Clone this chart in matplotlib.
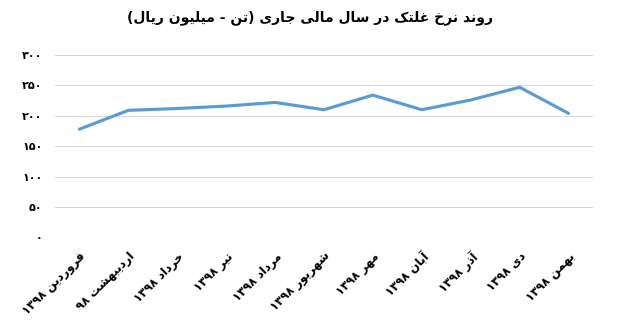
import matplotlib
matplotlib.use('Agg')
import matplotlib.pyplot as plt
from matplotlib.ticker import FuncFormatter, MultipleLocator

# chart data
months = ['فروردین ۱۳۹۸', 'اردیبهشت ۹۸', 'خرداد ۱۳۹۸', 'تیر ۱۳۹۸', 'مرداد ۱۳۹۸',
          'شهریور ۱۳۹۸', 'مهر ۱۳۹۸', 'آبان ۱۳۹۸', 'آذر ۱۳۹۸', 'دی ۱۳۹۸', 'بهمن ۱۳۹۸']
prices = [178, 209, 212, 216, 222, 210, 234, 210, 226, 247, 204]
title = 'روند نرخ غلتک در سال مالی جاری (تن - میلیون ریال)'

# presentation forms: letter -> (isolated codepoint, joins on both sides)
FORMS = {
    'ا': (0xFE8D, False), 'آ': (0xFE81, False), 'د': (0xFEA9, False),
    'ذ': (0xFEAB, False), 'ر': (0xFEAD, False), 'ز': (0xFEAF, False),
    'و': (0xFEED, False),
    'ب': (0xFE8F, True), 'ت': (0xFE95, True), 'ج': (0xFE9D, True),
    'خ': (0xFEA5, True), 'س': (0xFEB1, True), 'ش': (0xFEB5, True),
    'غ': (0xFECD, True), 'ف': (0xFED1, True), 'ل': (0xFEDD, True),
    'م': (0xFEE1, True), 'ن': (0xFEE5, True), 'ه': (0xFEE9, True),
    'ی': (0xFBFC, True), 'ک': (0xFB8E, True),
}
DIGITS = set('0123456789۰۱۲۳۴۵۶۷۸۹')


def shape(text):
    # join letters, then lay out right-to-left (matplotlib does neither)
    out = []
    for i, ch in enumerate(text):
        if ch not in FORMS:
            out.append(ch)
            continue
        base, dual = FORMS[ch]
        prev = i > 0 and text[i - 1] in FORMS and FORMS[text[i - 1]][1]
        nxt = dual and i + 1 < len(text) and text[i + 1] in FORMS
        if prev and nxt:
            form = 3
        elif prev:
            form = 1
        elif nxt:
            form = 2
        else:
            form = 0
        out.append(chr(base + form))
    rev = out[::-1]
    # keep number runs left-to-right, mirror brackets
    res, run = [], []
    for ch in rev:
        if ch in DIGITS:
            run.append(ch)
            continue
        if run:
            res.extend(run[::-1])
            run = []
        res.append({'(': ')', ')': '('}.get(ch, ch))
    res.extend(run[::-1])
    return ''.join(res)


def fa_num(v, pos=None):
    return str(int(round(v))).translate(str.maketrans('0123456789', '۰۱۲۳۴۵۶۷۸۹'))


plt.rcParams['font.family'] = ['DejaVu Sans']

fig = plt.figure(figsize=(6.2, 3.24), dpi=100)
ax = fig.add_axes([0.0887, 0.2676, 0.8677, 0.5625])

x = list(range(len(months)))
ax.plot(x, prices, color='#5B9BD5', lw=2.25, solid_capstyle='round', zorder=3)

ax.set_xlim(-0.5, len(months) - 0.5)
ax.set_ylim(0, 300)
ax.yaxis.set_major_locator(MultipleLocator(50))
ax.yaxis.set_major_formatter(FuncFormatter(fa_num))
ax.grid(axis='y', color='#D9D9D9', lw=0.75)
ax.set_axisbelow(True)
for s in ax.spines.values():
    s.set_visible(False)
ax.tick_params(axis='both', length=0, labelsize=8, colors='black')
ax.tick_params(axis='y', pad=9)
ax.tick_params(axis='x', pad=9)

ax.set_xticks(x)
ax.set_xticklabels([shape(m) for m in months], rotation=45, ha='right',
                   va='top', rotation_mode='anchor', fontweight='bold', fontsize=8.5)
for lab in ax.get_yticklabels():
    lab.set_fontweight('bold')

fig.text(0.5, 0.945, shape(title), ha='center', va='center',
         fontsize=10, fontweight='bold')

fig.savefig('out.png', dpi=100)
